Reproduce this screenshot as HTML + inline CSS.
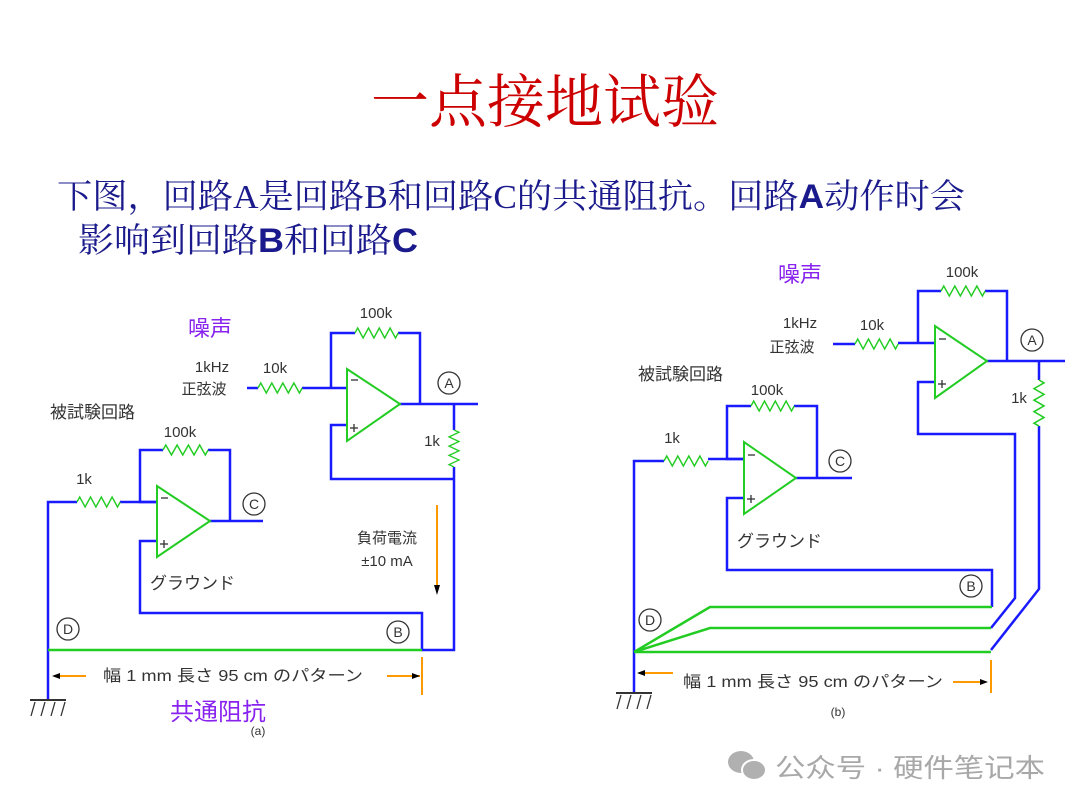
<!DOCTYPE html>
<html><head><meta charset="utf-8"><style>
html,body{margin:0;padding:0;background:#fff;}
svg{display:block;}
.t{font-family:"Liberation Sans","Noto Sans CJK JP",sans-serif;fill:#333;}
</style></head><body>
<svg width="1080" height="811" viewBox="0 0 1080 811" xmlns="http://www.w3.org/2000/svg">
<defs>
<path id="z" d="M0,0 l3,-5 l6,10 l6,-10 l6,10 l6,-10 l6,10 l6,-10 l6,10 l3,-5" fill="none" stroke="#22cc22" stroke-width="1.6"/>
</defs>
<text x="545" y="122" text-anchor="middle" font-family="'Liberation Serif','Noto Serif CJK SC',serif" font-size="58" fill="#cc0000">一点接地试验</text>
<text x="57" y="208" font-family="'Liberation Serif','Noto Serif CJK SC',serif" font-size="34" fill="#1a1a8c" textLength="908" lengthAdjust="spacingAndGlyphs">下图，回路A是回路B和回路C的共通阻抗。回路<tspan font-family="'Liberation Sans',sans-serif" font-weight="bold">A</tspan>动作时会</text>
<text x="78" y="252" font-family="'Liberation Serif','Noto Serif CJK SC',serif" font-size="34" fill="#1a1a8c" textLength="340" lengthAdjust="spacingAndGlyphs">影响到回路<tspan font-family="'Liberation Sans',sans-serif" font-weight="bold">B</tspan>和回路<tspan font-family="'Liberation Sans',sans-serif" font-weight="bold">C</tspan></text>

<!-- LEFT (a) -->
<g fill="none" stroke="#1a1aff" stroke-width="2.5">
<polyline points="247,388 258,388"/><polyline points="302,388 347,388"/>
<polyline points="331,388 331,333 355,333"/><polyline points="398,333 420,333 420,404"/>
<polyline points="400,404 478,404"/>
<polyline points="454,404 454,430"/><polyline points="454,467 454,650 422,650 422,613 140,613 140,541 157,541"/>
<polyline points="347,425 331,425 331,479 454,479"/>
<polyline points="210,521 263,521"/><polyline points="230,521 230,450 208,450"/>
<polyline points="163,450 140,450 140,502 157,502"/>
<polyline points="120,502 157,502"/>
<polyline points="77,502 48,502 48,700"/>
</g>
<g fill="none" stroke="#22cc22" stroke-width="2">
<polygon points="347,326 347,398 400,361" transform="translate(0,43)"/>
<polygon points="157,486 157,557 210,521"/>
<line x1="48" y1="650" x2="422" y2="650" stroke-width="2.5"/>
</g>
<use href="#z" transform="translate(258,388) scale(0.92,1)"/>
<use href="#z" transform="translate(355,333) scale(0.9,1)"/>
<use href="#z" transform="translate(454,430) rotate(90) scale(0.77,1)"/>
<use href="#z" transform="translate(163,450) scale(0.94,1)"/>
<use href="#z" transform="translate(77,502) scale(0.9,1)"/>
<g stroke="#333" stroke-width="1.3" fill="none">
<line x1="351" y1="380" x2="358" y2="380"/><line x1="350" y1="428" x2="358" y2="428"/><line x1="354" y1="424" x2="354" y2="432"/>
<line x1="161" y1="498" x2="168" y2="498"/><line x1="160" y1="544" x2="168" y2="544"/><line x1="164" y1="540" x2="164" y2="548"/>
<circle cx="449" cy="383" r="11"/><circle cx="254" cy="504" r="11"/><circle cx="68" cy="629" r="11"/><circle cx="398" cy="632" r="11"/>
<line x1="30" y1="700" x2="66" y2="700" stroke-width="2"/>
<line x1="35" y1="702" x2="31" y2="716"/><line x1="45" y1="702" x2="41" y2="716"/><line x1="55" y1="702" x2="51" y2="716"/><line x1="65" y1="702" x2="61" y2="716"/>
</g>
<g class="t" font-size="14" text-anchor="middle">
<text x="449" y="388">A</text><text x="254" y="509">C</text><text x="68" y="634">D</text><text x="398" y="637">B</text>
</g>
<g stroke="#ff9900" stroke-width="2" fill="none">
<line x1="54" y1="676" x2="86" y2="676"/><line x1="387" y1="676" x2="420" y2="676"/>
<line x1="422" y1="657" x2="422" y2="695"/><line x1="437" y1="505" x2="437" y2="590"/>
</g>
<g fill="#000"><polygon points="52,676 60,673 60,679"/><polygon points="420,676 412,673 412,679"/><polygon points="437,595 434,585 440,585"/></g>
<text x="210" y="336" text-anchor="middle" font-family="'Liberation Sans','Noto Sans CJK SC',sans-serif" font-size="22" fill="#8822ee">噪声</text>
<g class="t" font-size="15">
<text x="376" y="318" text-anchor="middle">100k</text>
<text x="212" y="372" text-anchor="middle">1kHz</text>
<text x="204" y="394" text-anchor="middle">正弦波</text>
<text x="275" y="373" text-anchor="middle">10k</text>
<text x="50" y="418" font-size="17">被試験回路</text>
<text x="180" y="437" text-anchor="middle">100k</text>
<text x="84" y="484" text-anchor="middle">1k</text>
<text x="432" y="446" text-anchor="middle">1k</text>
<text x="387" y="543" text-anchor="middle">負荷電流</text>
<text x="387" y="566" text-anchor="middle">±10 mA</text>
<text x="150" y="589" font-size="17">グラウンド</text>
<text x="103" y="681" font-size="16" textLength="260" lengthAdjust="spacingAndGlyphs">幅 1 mm 長さ 95 cm のパターン</text>
<text x="258" y="735" text-anchor="middle" font-size="12">(a)</text>
</g>
<text x="218" y="720" text-anchor="middle" font-family="'Liberation Sans','Noto Sans CJK SC',sans-serif" font-size="24" fill="#8822ee">共通阻抗</text>

<!-- RIGHT (b) -->
<g fill="none" stroke="#1a1aff" stroke-width="2.5">
<polyline points="833,344 855,344"/><polyline points="898,343 935,343"/>
<polyline points="918,343 918,291 941,291"/><polyline points="985,291 1007,291 1007,361"/>
<polyline points="987,361 1065,361"/>
<polyline points="1039,361 1039,380"/><polyline points="1039,426 1039,589 991,650"/>
<polyline points="935,382 918,382 918,434 1015,434 1015,598 991,628"/>
<polyline points="796,478 852,478"/><polyline points="817,478 817,406 794,406"/>
<polyline points="751,406 727,406 727,459 744,459"/><polyline points="708,459 744,459"/>
<polyline points="744,498 727,498 727,570 992,570 992,607"/>
<polyline points="664,461 634,461 634,693"/>
</g>
<g fill="none" stroke="#22cc22" stroke-width="2">
<polygon points="935,326 935,398 987,361"/>
<polygon points="744,442 744,514 796,478"/>
<polyline points="634,652 710,607 992,607" stroke-width="2.5"/>
<polyline points="634,652 710,628 991,628" stroke-width="2.5"/>
<polyline points="634,652 991,652" stroke-width="2.5"/>
</g>
<use href="#z" transform="translate(855,344) scale(0.9,1)"/>
<use href="#z" transform="translate(941,291) scale(0.92,1)"/>
<use href="#z" transform="translate(1039,380) rotate(90) scale(0.96,1)"/>
<use href="#z" transform="translate(751,406) scale(0.9,1)"/>
<use href="#z" transform="translate(664,461) scale(0.92,1)"/>
<g stroke="#333" stroke-width="1.3" fill="none">
<line x1="939" y1="339" x2="946" y2="339"/><line x1="938" y1="384" x2="946" y2="384"/><line x1="942" y1="380" x2="942" y2="388"/>
<line x1="748" y1="455" x2="755" y2="455"/><line x1="747" y1="499" x2="755" y2="499"/><line x1="751" y1="495" x2="751" y2="503"/>
<circle cx="1032" cy="340" r="11"/><circle cx="840" cy="461" r="11"/><circle cx="971" cy="586" r="11"/><circle cx="650" cy="620" r="11"/>
<line x1="616" y1="693" x2="652" y2="693" stroke-width="2"/>
<line x1="621" y1="695" x2="617" y2="709"/><line x1="631" y1="695" x2="627" y2="709"/><line x1="641" y1="695" x2="637" y2="709"/><line x1="651" y1="695" x2="647" y2="709"/>
</g>
<g class="t" font-size="14" text-anchor="middle">
<text x="1032" y="345">A</text><text x="840" y="466">C</text><text x="971" y="591">B</text><text x="650" y="625">D</text>
</g>
<g stroke="#ff9900" stroke-width="2" fill="none">
<line x1="639" y1="673" x2="673" y2="673"/><line x1="953" y1="682" x2="985" y2="682"/>
<line x1="991" y1="660" x2="991" y2="693"/>
</g>
<g fill="#000"><polygon points="637,673 645,670 645,676"/><polygon points="988,682 980,679 980,685"/></g>
<text x="800" y="282" text-anchor="middle" font-family="'Liberation Sans','Noto Sans CJK SC',sans-serif" font-size="22" fill="#8822ee">噪声</text>
<g class="t" font-size="15">
<text x="962" y="277" text-anchor="middle">100k</text>
<text x="800" y="328" text-anchor="middle">1kHz</text>
<text x="792" y="352" text-anchor="middle">正弦波</text>
<text x="872" y="330" text-anchor="middle">10k</text>
<text x="638" y="380" font-size="17">被試験回路</text>
<text x="767" y="395" text-anchor="middle">100k</text>
<text x="672" y="443" text-anchor="middle">1k</text>
<text x="1019" y="403" text-anchor="middle">1k</text>
<text x="737" y="547" font-size="17">グラウンド</text>
<text x="683" y="687" font-size="16" textLength="260" lengthAdjust="spacingAndGlyphs">幅 1 mm 長さ 95 cm のパターン</text>
<text x="838" y="716" text-anchor="middle" font-size="12">(b)</text>
</g>

<!-- watermark -->
<g fill="#b0b0b0">
<ellipse cx="741" cy="762" rx="13" ry="11"/>
<ellipse cx="754" cy="770" rx="12" ry="10" stroke="#fff" stroke-width="2"/>
</g>
<text x="775" y="777" font-family="'Liberation Sans','Noto Sans CJK SC',sans-serif" font-size="26" fill="#a8a8a8" textLength="270" lengthAdjust="spacingAndGlyphs">公众号 · 硬件笔记本</text>
</svg>
</body></html>
